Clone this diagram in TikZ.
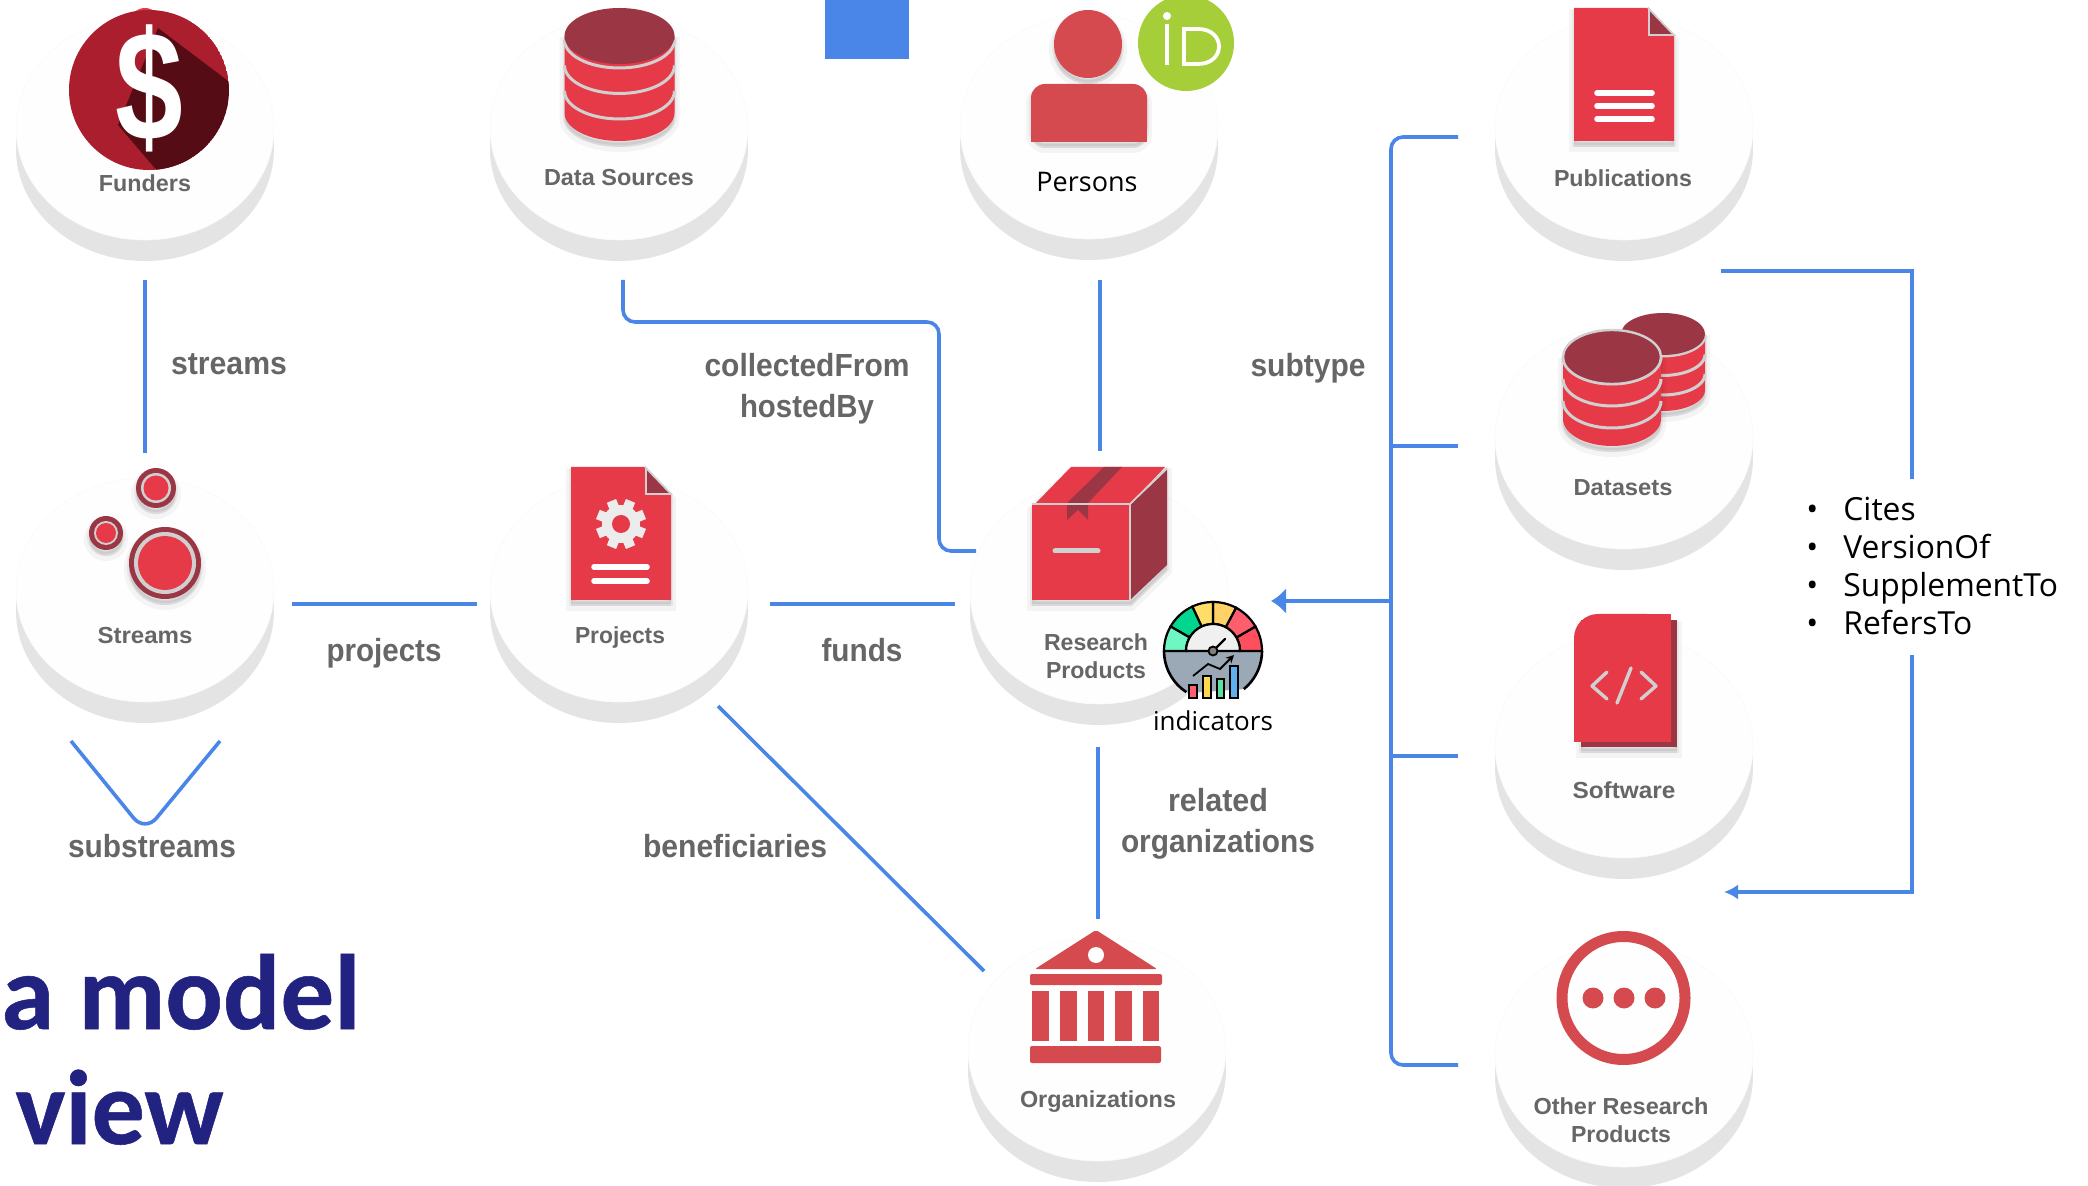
\documentclass[tikz,border=0pt]{standalone}
\usepackage{fontspec}
\usetikzlibrary{arrows.meta}
\setmainfont{Liberation Sans}
\newfontfamily\opensans{Open Sans}
\newfontfamily\carlito[BoldFeatures={FakeBold=0.5}]{Carlito}
\definecolor{redi}{HTML}{E73A48}
\definecolor{redm}{HTML}{D44A4E}
\definecolor{redd}{HTML}{9B3644}
\definecolor{coin}{HTML}{AA1E2E}
\definecolor{coind}{HTML}{550C14}
\definecolor{discg}{HTML}{E4E4E4}
\definecolor{discw}{HTML}{FEFEFE}
\definecolor{edgeb}{HTML}{4A86E8}
\definecolor{labg}{HTML}{666666}
\definecolor{navyt}{HTML}{222280}
\definecolor{lightg}{HTML}{D0D0D0}
\definecolor{orcid}{HTML}{A6CE39}
\definecolor{gaugeg}{HTML}{9BA8B5}
\definecolor{gra}{HTML}{FF4F5E}
\definecolor{grb}{HTML}{FF5E6C}
\definecolor{grc}{HTML}{FFD166}
\definecolor{grd}{HTML}{FFDD66}
\definecolor{gre}{HTML}{00D68F}
\definecolor{grf}{HTML}{6EF7C2}
\definecolor{bara}{HTML}{FF6070}
\definecolor{barb}{HTML}{FFD84D}
\definecolor{barc}{HTML}{5EE0A0}
\definecolor{bard}{HTML}{5FB0F0}
\newcommand\fitx[2]{\resizebox{\dimexpr#1pt/2\relax}{\height}{#2}}
\newcommand\disc[2]{%
  \fill[discg] (#1-129,#2) rectangle (#1+129,#2+21);
  \fill[discg] (#1,#2+21) ellipse [x radius=129,y radius=112];
  \fill[discw,draw=black!2,line width=.3pt] (#1,#2) ellipse [x radius=129,y radius=112];
}
% cx, top cy, rx, ry, body height, first band offset, band step
\newcommand\cyl[7]{%
  \fill[soft] (#1-#3,#2) -- (#1-#3,#2+#5) -- plot[domain=180:0,samples=30] ({#1+#3*cos(\x)},{#2+#5+#4*sin(\x)}) -- (#1+#3,#2) -- cycle;
  \fill[redi] (#1-#3,#2) -- (#1-#3,#2+#5) -- plot[domain=180:0,samples=30] ({#1+#3*cos(\x)},{#2+#5+#4*sin(\x)}) -- (#1+#3,#2) -- cycle;
  \foreach \o in {0,1,2}{
    \draw[lightg,line width=1.5pt] plot[domain=0:180,samples=30] ({#1+#3*cos(\x)},{#2+#6+\o*#7+#4*sin(\x)});
  }
  \fill[redd] (#1,#2) ellipse [x radius=#3,y radius=#4];
}
\newcommand\gseg[3]{%
  \filldraw[fill=#3,draw=black,line width=1.1pt] plot[domain=#1:#2,samples=10] ({1213+49*cos(\x)},{651-49*sin(\x)}) -- plot[domain=#2:#1,samples=10] ({1213+27*cos(\x)},{651-27*sin(\x)}) -- cycle;
}
\newcommand\docpage[2]{%
  \fill[soft] (#1,#2) -- (#1+73,#2) -- (#1+100,#2+27) -- (#1+100,#2+133) -- (#1,#2+133) -- cycle;
  \fill[redi] (#1,#2) -- (#1+73,#2) -- (#1+100,#2+27) -- (#1+100,#2+133) -- (#1,#2+133) -- cycle;
  \filldraw[fill=redd,draw=lightg,line width=.9pt] (#1+75,#2+1) -- (#1+100,#2+27) -- (#1+75,#2+27) -- cycle;
}
\tikzset{
  x=0.5pt,y=-0.5pt,
  soft/.style={preaction={fill=black,fill opacity=.06,draw=black,draw opacity=.04,line width=5pt,transform canvas={yshift=-3pt}},
               preaction={fill=black,fill opacity=.06,draw=black,draw opacity=.05,line width=2pt,transform canvas={yshift=-2pt}},fill=none},
  conn/.style={draw=edgeb,line width=1.8pt,rounded corners=6pt},
  lab/.style={text=labg,font=\bfseries\fontsize{11.6}{14}\selectfont,align=center,inner sep=0pt},
  elab/.style={text=labg,font=\bfseries\fontsize{16}{20.5}\selectfont,align=center,inner sep=0pt},
  osl/.style={text=black,font=\opensans\fontsize{13}{16}\selectfont,inner sep=0pt},
  whitebar/.style={white,line width=2.8pt,line cap=round},
}
\begin{document}
\begin{tikzpicture}
\useasboundingbox (0,0) rectangle (2088,1186);
\clip (0,0) rectangle (2088,1186);
\fill[white] (0,0) rectangle (2088,1186);
% discs
\disc{145}{128}\disc{619}{128}\disc{1089}{127}\disc{1624}{128}
\disc{145}{590}\disc{619}{590}\disc{1099}{592}
\disc{1624}{437}\disc{1624}{746}
\disc{1097}{1049}\disc{1624}{1055}
% top blue square
\fill[edgeb] (825,0) rectangle (909,59);
% connector ends
\coordinate (fA) at (145,280); \coordinate (fB) at (145,453);
\coordinate (dA) at (623,280); \coordinate (dB) at (623,322); \coordinate (dC) at (939,322); \coordinate (dD) at (939,551); \coordinate (dE) at (976,551);
\coordinate (pA) at (1100,280); \coordinate (pB) at (1100,451);
\coordinate (sA) at (292,604); \coordinate (sB) at (477,604);
\coordinate (uA) at (770,604); \coordinate (uB) at (955,604);
\coordinate (bA) at (718,706); \coordinate (bB) at (984,971);
\coordinate (rA) at (1098,747); \coordinate (rB) at (1098,919);
\coordinate (vA) at (71,741); \coordinate (vB) at (145,832); \coordinate (vC) at (220,741);
\coordinate (tA) at (1458,137); \coordinate (tB) at (1391,137); \coordinate (tC) at (1391,1065); \coordinate (tD) at (1458,1065);
\coordinate (tE) at (1391,446); \coordinate (tF) at (1458,446);
\coordinate (tG) at (1391,756); \coordinate (tH) at (1458,756);
\coordinate (tI) at (1391,601); \coordinate (tJ) at (1271,601);
\coordinate (cA) at (1721,271); \coordinate (cB) at (1912,271); \coordinate (cC) at (1912,479);
\coordinate (cD) at (1912,655); \coordinate (cE) at (1912,892); \coordinate (cF) at (1724,892);
% connectors
\draw[conn] (fA) -- (fB);
\draw[conn] (dA) -- (dB) -- (dC) -- (dD) -- (dE);
\draw[conn] (pA) -- (pB);
\draw[conn] (sA) -- (sB);
\draw[conn] (uA) -- (uB);
\draw[conn] (bA) -- (bB);
\draw[conn] (rA) -- (rB);
\draw[conn,rounded corners=9pt] (vA) -- (vB) -- (vC);
\draw[conn] (tA) -- (tB) -- (tC) -- (tD);
\draw[conn] (tE) -- (tF);
\draw[conn] (tG) -- (tH);
\draw[conn,-{Latex[length=7.5pt,width=13pt]}] (tI) -- (tJ);
\draw[conn,rounded corners=0pt] (cA) -- (cB) -- (cC);
\draw[conn,rounded corners=0pt,-{Latex[length=7pt,width=7.5pt]}] (cD) -- (cE) -- (cF);
% funders icon
\fill[redi] (145,23) circle [radius=15];
\begin{scope}
  \clip (149,90) circle [radius=80];
  \fill[coin] (149,90) circle [radius=80];
  \fill[coind] (158,28) -- (240,90) -- (240,180) -- (165,180) -- (118,125) -- cycle;
\end{scope}
\node[text=white,font=\bfseries\fontsize{78}{78}\selectfont,inner sep=0pt] (dollar) at (149,88) {\scalebox{.78}[1]{\$}};
% data sources
\cyl{619.5}{36}{55}{28}{77}{4}{25.5}
% persons
\fill[soft] (1088,44) circle [radius=34];
\fill[redm] (1088,44) circle [radius=34];
\fill[soft,rounded corners=7pt] (1031,142) -- (1031,84) -- (1147,84) -- (1147,142) -- cycle;
\fill[redm,rounded corners=7pt] (1031,142) -- (1031,84) -- (1147,84) -- (1147,142) [sharp corners] -- cycle;
\fill[redm] (1031,120) rectangle (1147,142);
\fill[orcid] (1186,43) circle [radius=48];
\fill[white] (1167,16) circle [radius=4];
\draw[white,line width=1.9pt] (1167,24) -- (1167,65);
\draw[white,line width=1.9pt] (1184,29) -- (1184,64) -- (1198,64) .. controls (1226,64) and (1226,29) .. (1198,29) -- cycle;
% publications
\docpage{1574}{8}
\foreach \y in {93,106,119}{\draw[whitebar] (1597,\y) -- (1652,\y);}
% datasets
\cyl{1663}{334}{42}{21}{56}{1}{19.5}
\cyl{1612}{357}{49}{27}{62}{0}{22}
\draw[lightg,line width=1.2pt] (1612,357) ellipse [x radius=49,y radius=27];
% streams
\foreach \xx/\yy/\ra/\rb/\rc in {165/563/36/31/27,156/488/20/15/12.5,106/533/17/12/10}{
  \fill[soft] (\xx,\yy) circle [radius=\ra];
  \fill[redd] (\xx,\yy) circle [radius=\ra];
  \fill[lightg] (\xx,\yy) circle [radius=\rb];
  \fill[redi] (\xx,\yy) circle [radius=\rc];
}
% projects
\docpage{571}{467}
\foreach \a in {0,45,...,315}{\draw[gray!15,line width=5pt] (621,524) -- ++(\a+22.5:25);}
\fill[gray!15] (621,524) circle [radius=19];
\fill[redi] (621,524) circle [radius=9];
\foreach \y in {567,581}{\draw[whitebar] (594,\y) -- (647,\y);}
% research products box
\fill[soft] (1032,505) -- (1071,467) -- (1167,467) -- (1167,565) -- (1131,600) -- (1032,600) -- cycle;
\fill[redi] (1032,505) rectangle (1129,600);
\fill[redd] (1131,504) -- (1167,470) -- (1167,565) -- (1131,599) -- cycle;
\fill[redi] (1036,503) -- (1071,467) -- (1165,467) -- (1131,503) -- cycle;
\fill[redd] (1104,467) -- (1122,467) -- (1088,503) -- (1088,520) -- (1078,510) -- (1067,520) -- (1067,503) -- cycle;
\draw[lightg,line width=.9pt] (1032,504) -- (1130,504) -- (1130,600);
\draw[lightg,line width=.9pt] (1130,504) -- (1167,468);
\draw[lightg,line width=2.5pt,line cap=round] (1055,551) -- (1098,551);
% gauge
\fill[white] (1213,651) circle [radius=49];
\fill[gaugeg] (1262,651) -- plot[domain=0:51,samples=10] ({1213+49*cos(\x)},{651+49*sin(\x)}) -- (1189,693) -- plot[domain=123:180,samples=10] ({1213+49*cos(\x)},{651+49*sin(\x)}) -- cycle;
\draw[black,line width=1.3pt] plot[domain=0:51,samples=10] ({1213+49*cos(\x)},{651+49*sin(\x)});
\draw[black,line width=1.3pt] plot[domain=123:180,samples=10] ({1213+49*cos(\x)},{651+49*sin(\x)});
\gseg{0}{30}{gra}
\gseg{30}{62}{grb}
\gseg{62}{90}{grc}
\gseg{90}{115}{grd}
\gseg{115}{150}{gre}
\gseg{150}{180}{grf}
\filldraw[fill=gray!12,draw=black,line width=1.1pt] plot[domain=0:180,samples=20] ({1213+27*cos(\x)},{651-27*sin(\x)}) -- cycle;
\draw[black,line width=1.4pt] (1164,651) -- (1262,651);
\draw[black,line width=1.2pt,line cap=round] (1213,651) -- (1225,639);
\filldraw[fill=gray,draw=black,line width=.9pt] (1213,651) circle [radius=4.5];
\draw[black,line width=.9pt,-{Stealth[length=4pt,width=4pt]}] (1193,676) -- (1208,664) -- (1220,669) -- (1234,655);
\foreach \xa/\xb/\yt/\cc in {1189/1197/685/bara,1203/1211/676/barb,1217/1224/679/barc,1230/1238/666/bard}{
  \filldraw[fill=\cc,draw=black,line width=1pt] (\xa,\yt) rectangle (\xb,698);
}
% software
\fill[soft] (1581,620) rectangle (1677,747);
\fill[redd] (1581,620) rectangle (1677,747);
\fill[redi,rounded corners=12pt] (1574,742) -- (1574,614) -- (1671,614) [sharp corners] -- (1671,742) -- cycle;
\fill[redi] (1574,700) rectangle (1671,742);
\fill[redi] (1620,614) rectangle (1671,742);
\draw[lightg,line width=1.7pt,line cap=round,line join=round] (1607,672) -- (1592,686) -- (1607,699);
\draw[lightg,line width=1.7pt,line cap=round] (1631,668) -- (1617,703);
\draw[lightg,line width=1.7pt,line cap=round,line join=round] (1641,672) -- (1656,686) -- (1641,699);
% organizations
\fill[redm,rounded corners=1pt] (1096,930) -- (1157,969) -- (1035,969) -- cycle;
\fill[white] (1096,955) circle [radius=8];
\fill[redm,rounded corners=1pt] (1030,974) rectangle (1162,985);
\foreach \xa/\xb in {1032/1049,1060/1077,1088/1104,1115/1132,1143/1159}{\fill[redm] (\xa,991) rectangle (\xb,1041);}
\fill[redm,rounded corners=1pt] (1030,1046) rectangle (1161,1063);
% other
\draw[redm,line width=5.5pt] (1623.5,998) circle [radius=61.5];
\foreach \xx in {1593,1624,1655}{\fill[redm] (\xx,998) circle [radius=10.5];}
% disc labels
\node[lab] (lFunders) at (145,183) {\fitx{92}{Funders}};
\node[lab] (lData) at (619,178) {\fitx{150}{Data Sources}};
\node[osl] (lPersons) at (1087,182) {\fontsize{13.5}{16}\selectfont Persons};
\node[lab] (lPub) at (1623,178) {\fitx{138}{Publications}};
\node[lab] (lDatasets) at (1623,488) {\fitx{99}{Datasets}};
\node[lab] (lStreams) at (145,636) {\fitx{95}{Streams}};
\node[lab] (lProjects) at (620,638) {\fitx{90}{Projects}};
\node[lab] (lRP) at (1096,656) {\fitx{104}{Research}\\\fitx{100}{Products}};
\node[lab] (lSoftware) at (1624,790) {\fitx{103}{Software}};
\node[lab] (lOrg) at (1098,1102) {\fitx{156}{Organizations}};
\node[lab] (lOther) at (1621,1120) {\fitx{175}{Other Research}\\\fitx{100}{Products}};
\node[osl] (lInd) at (1213,721) {indicators};
% edge labels
\node[elab] (eStreams) at (229,364) {\fitx{116}{streams}};
\node[elab] (eProjects) at (384,653) {\fitx{115}{projects}};
\node[elab] (eFunds) at (862,650) {\fitx{81}{funds}};
\node[elab] (eColl) at (807,389) {\fitx{205}{collectedFrom}\\\fitx{134}{hostedBy}};
\node[elab] (eSub) at (1308,368) {\fitx{115}{subtype}};
\node[elab] (eSubs) at (152,846) {\fitx{168}{substreams}};
\node[elab] (eBen) at (735,846) {\fitx{184}{beneficiaries}};
\node[elab] (eRel) at (1218,824) {\fitx{100}{related}\\\fitx{194}{organizations}};
% list
\node[anchor=north west,inner sep=0pt,align=left,font=\opensans\fontsize{15.9}{19}\selectfont] (list) at (1806,497)
  {\makebox[18.5pt][l]{•}Cites\\\makebox[18.5pt][l]{•}VersionOf\\\makebox[18.5pt][l]{•}SupplementTo\\\makebox[18.5pt][l]{•}RefersTo};
% title
\node[anchor=base west,inner sep=0pt,text=navyt,font=\carlito\bfseries\fontsize{53.5}{53.5}\selectfont] (t1) at (1,1029) {a model};
\node[anchor=base west,inner sep=0pt,text=navyt,font=\carlito\bfseries\fontsize{53}{53}\selectfont] (t2) at (15,1144) {view};
\end{tikzpicture}
\end{document}
